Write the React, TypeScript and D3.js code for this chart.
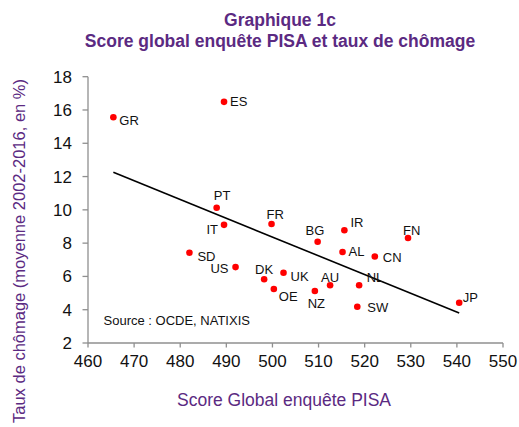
import React from 'react';
import * as d3 from 'd3';

// Country codes, PISA scores and unemployment rates
const countries = ['GR', 'ES', 'PT', 'IT', 'FR', 'SD', 'US', 'DK', 'UK', 'OE', 'BG', 'IR', 'AL', 'CN', 'FN', 'AU', 'NZ', 'NL', 'SW', 'JP'];
const pisaScores = [465.5, 489.5, 487.9, 489.5, 499.8, 482.0, 492.0, 498.2, 502.4, 500.3, 509.8, 515.6, 515.2, 522.2, 529.4, 512.5, 509.2, 518.8, 518.4, 540.5];
const unemployment = [15.56, 16.49, 10.13, 9.1, 9.15, 7.42, 6.56, 5.83, 6.22, 5.24, 8.08, 8.77, 7.47, 7.2, 8.31, 5.47, 5.12, 5.47, 4.18, 4.42];

const xTicks = [460, 470, 480, 490, 500, 510, 520, 530, 540, 550];
const yTicks = [2, 4, 6, 8, 10, 12, 14, 16, 18];

// label placement around each point: [dx, dy, anchor]
const labelPos: Record<string, [number, number, string]> = {
  GR: [6, 3.5, 'start'],
  ES: [6, 0, 'start'],
  PT: [5.5, -12, 'middle'],
  IT: [-6, 4.5, 'end'],
  FR: [3.7, -9.5, 'middle'],
  SD: [8, 4, 'start'],
  US: [-7, 1, 'end'],
  DK: [0, -10, 'middle'],
  UK: [7, 3.5, 'start'],
  OE: [5, 7.5, 'start'],
  BG: [-2.7, -11.7, 'middle'],
  IR: [6, -7.7, 'start'],
  AL: [6, -1, 'start'],
  CN: [8, 1, 'start'],
  FN: [3.7, -7.7, 'middle'],
  AU: [0, -8, 'middle'],
  NZ: [1.5, 12, 'middle'],
  NL: [7.5, -7.3, 'start'],
  SW: [10, 0.7, 'start'],
  JP: [3.5, -5.4, 'start'],
};

const purple = '#5b2a82';
const axisGrey = '#8f8f8f';
const font = 'Arial, "Liberation Sans", sans-serif';

export default function App() {
  const x = d3.scaleLinear().domain([460, 550]).range([88, 503]);
  const y = d3.scaleLinear().domain([2, 18]).range([343, 76.7]);

  // least squares trend line
  const mx = d3.mean(pisaScores) as number;
  const my = d3.mean(unemployment) as number;
  let sxy = 0;
  let sxx = 0;
  pisaScores.forEach((v, i) => {
    sxy += (v - mx) * (unemployment[i] - my);
    sxx += (v - mx) * (v - mx);
  });
  const slope = sxy / sxx;
  const [x0, x1] = d3.extent(pisaScores) as [number, number];
  const trend = [x0, x1].map(v => [v, my + slope * (v - mx)] as [number, number]);
  const line = d3.line<[number, number]>().x(d => x(d[0])).y(d => y(d[1]));

  return (
    <svg width={519} height={427} style={{ position: 'absolute', left: 0, top: 0, background: '#fff' }} fontFamily={font}>
      {/* title */}
      <text x={280} y={26} textAnchor="middle" fontSize={17.5} fontWeight="bold" fill={purple}>Graphique 1c</text>
      <text x={280} y={47} textAnchor="middle" fontSize={17.5} fontWeight="bold" fill={purple}>Score global enquête PISA et taux de chômage</text>

      {/* axes */}
      <line x1={x(460)} x2={x(460)} y1={y(18)} y2={y(2)} stroke={axisGrey} strokeWidth={1.3} />
      <line x1={x(460)} x2={x(550)} y1={y(2)} y2={y(2)} stroke={axisGrey} strokeWidth={1.3} />
      {yTicks.map(t => (
        <g key={'y' + t}>
          <line x1={x(460) - 5.5} x2={x(460)} y1={y(t)} y2={y(t)} stroke={axisGrey} strokeWidth={1.3} />
          <text x={72} y={y(t)} dy="0.35em" textAnchor="end" fontSize={17} fill="#111">{t}</text>
        </g>
      ))}
      {xTicks.map(t => (
        <g key={'x' + t}>
          <line x1={x(t)} x2={x(t)} y1={y(2)} y2={y(2) + 4.5} stroke={axisGrey} strokeWidth={1.3} />
          <text x={x(t)} y={361.5} dy="0.35em" textAnchor="middle" fontSize={17} fill="#111">{t}</text>
        </g>
      ))}

      {/* axis titles */}
      <text x={284} y={400} dy="0.35em" textAnchor="middle" fontSize={17.5} fill={purple}>Score Global enquête PISA</text>
      <text transform="translate(25,251) rotate(-90)" textAnchor="middle" fontSize={16.5} fill={purple}>Taux de chômage (moyenne 2002-2016, en %)</text>

      {/* trend line */}
      <path d={line(trend) || ''} fill="none" stroke="#000" strokeWidth={1.6} />

      {/* points and labels */}
      {countries.map((c, i) => {
        const [dx, dy, anchor] = labelPos[c];
        const px = x(pisaScores[i]);
        const py = y(unemployment[i]);
        return (
          <g key={c}>
            <circle cx={px} cy={py} r={3.3} fill="#ff0000" />
            <text x={px + dx} y={py + dy} dy="0.35em" textAnchor={anchor} fontSize={13} fill="#111">{c}</text>
          </g>
        );
      })}

      <text x={103.5} y={320} dy="0.35em" fontSize={13} fill="#111">Source : OCDE, NATIXIS</text>
    </svg>
  );
}
